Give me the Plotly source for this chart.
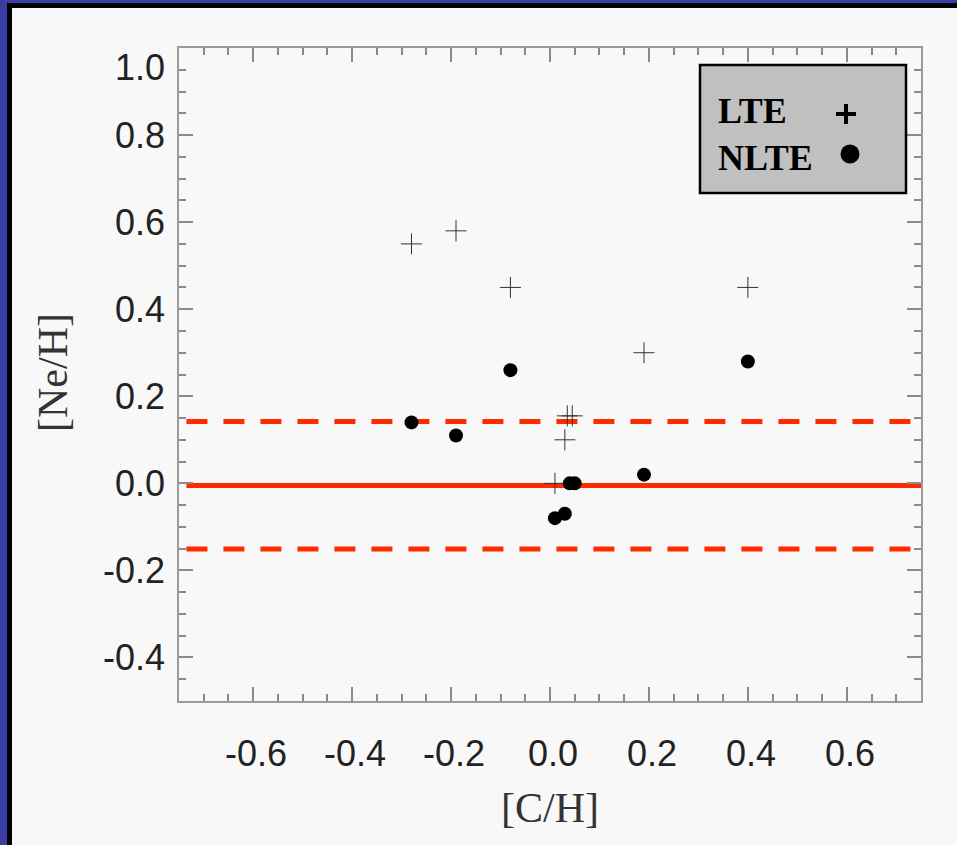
import plotly.graph_objects as go

# ---- data ----
ch_lte = [-0.28, -0.19, -0.08, 0.19, 0.40, 0.01, 0.03, 0.035, 0.045]
neh_lte = [0.55, 0.58, 0.45, 0.30, 0.45, 0.00, 0.10, 0.155, 0.155]
ch_nlte = [-0.28, -0.19, -0.08, 0.19, 0.40, 0.01, 0.03, 0.04, 0.05]
neh_nlte = [0.14, 0.11, 0.26, 0.02, 0.28, -0.08, -0.07, 0.00, 0.00]
mean_val = -0.005
upper_val = 0.142
lower_val = -0.151
line_x = [-0.735, 0.75]
x_ticks = [-0.6, -0.4, -0.2, 0.0, 0.2, 0.4, 0.6]
x_tick_labels = ["-0.6", "-0.4", "-0.2", "0.0", "0.2", "0.4", "0.6"]
y_ticks = [-0.4, -0.2, 0.0, 0.2, 0.4, 0.6, 0.8, 1.0]
y_tick_labels = ["-0.4", "-0.2", "0.0", "0.2", "0.4", "0.6", "0.8", "1.0"]

W, H = 957, 845
L, R, T, B = 179, 36, 48, 144
PW, PH = W - L - R, H - T - B


def px(x):
    return (x - L) / PW


def py(y):
    return (H - B - y) / PH


RED = "#ff2a00"
BLUE = "#3a3ea2"
fig = go.Figure()
fig.add_trace(go.Scatter(x=line_x, y=[upper_val] * 2, mode="lines",
                         line=dict(color=RED, width=5, dash="21px,16px"), hoverinfo="skip"))
fig.add_trace(go.Scatter(x=line_x, y=[lower_val] * 2, mode="lines",
                         line=dict(color=RED, width=5, dash="21px,16px"), hoverinfo="skip"))
fig.add_trace(go.Scatter(x=line_x, y=[mean_val] * 2, mode="lines",
                         line=dict(color=RED, width=5), hoverinfo="skip"))
fig.add_trace(go.Scatter(x=ch_lte, y=neh_lte, mode="markers", name="LTE",
                         marker=dict(symbol="cross-thin", size=15,
                                     line=dict(color="#333333", width=1))))
fig.add_trace(go.Scatter(x=ch_nlte, y=neh_nlte, mode="markers", name="NLTE",
                         marker=dict(symbol="circle", size=14, color="black")))

axis_common = dict(showline=True, linecolor="#9a9a9a", linewidth=2, mirror="ticks",
                   ticks="inside", ticklen=14, tickwidth=1.5, tickcolor="#8a8a8a",
                   showgrid=False, zeroline=False, showticklabels=False,
                   minor=dict(ticks="inside", ticklen=7, tickwidth=1.5,
                              tickcolor="#8a8a8a", dtick=0.05, showgrid=False))
fig.update_xaxes(range=[-0.75, 0.75], tick0=0, dtick=0.2, **axis_common)
fig.update_yaxes(range=[-0.5, 1.0], tick0=0, dtick=0.2, **axis_common)

ann = []
tick_font = dict(family="Liberation Sans, Arial, sans-serif", size=36, color="#222222")
for v, t in zip(x_ticks, x_tick_labels):
    ann.append(dict(x=v, xref="x", y=0, yref="paper", text=t, showarrow=False,
                    xanchor="center", yanchor="middle", yshift=-52, xshift=3, font=tick_font))
for v, t in zip(y_ticks, y_tick_labels):
    ys = -19 if v >= 1.0 else 0
    ann.append(dict(x=0, xref="paper", y=v, yref="y", text=t, showarrow=False,
                    xanchor="right", yanchor="middle", xshift=-12, yshift=ys, font=tick_font))
title_font = dict(family="Liberation Serif, Times New Roman, serif", size=42, color="#333333")
ann.append(dict(x=px(550), y=py(808), xref="paper", yref="paper", text="[C/H]",
                showarrow=False, xanchor="center", yanchor="middle", font=title_font))
ann.append(dict(x=px(53), y=py(373), xref="paper", yref="paper", text="[Ne/H]",
                showarrow=False, xanchor="center", yanchor="middle", textangle=-90,
                font=title_font))
leg_font = dict(family="Liberation Serif, Times New Roman, serif", size=36, color="black")
ann.append(dict(x=px(716), y=py(111), xref="paper", yref="paper", text="<b>LTE</b>",
                showarrow=False, xanchor="left", yanchor="middle", font=leg_font))
ann.append(dict(x=px(716), y=py(158), xref="paper", yref="paper", text="<b>NLTE</b>",
                showarrow=False, xanchor="left", yanchor="middle", font=leg_font))

shapes = []
# outer frame (blue + black) on left and top
shapes.append(dict(type="rect", xref="paper", yref="paper", x0=px(0), x1=px(7), y0=py(H), y1=py(0),
                   fillcolor=BLUE, line=dict(width=0), layer="above"))
shapes.append(dict(type="rect", xref="paper", yref="paper", x0=px(0), x1=px(W), y0=py(3), y1=py(0),
                   fillcolor=BLUE, line=dict(width=0), layer="above"))
shapes.append(dict(type="rect", xref="paper", yref="paper", x0=px(7), x1=px(12), y0=py(H), y1=py(3),
                   fillcolor="black", line=dict(width=0), layer="above"))
shapes.append(dict(type="rect", xref="paper", yref="paper", x0=px(7), x1=px(W), y0=py(8), y1=py(3),
                   fillcolor="black", line=dict(width=0), layer="above"))
# legend box
shapes.append(dict(type="rect", xref="paper", yref="paper", x0=px(700), x1=px(906), y0=py(193), y1=py(65),
                   fillcolor="#c0c0c0", line=dict(color="black", width=2.5), layer="above"))
# legend symbols
shapes.append(dict(type="line", xref="paper", yref="paper", x0=px(836), x1=px(856), y0=py(114), y1=py(114),
                   line=dict(color="black", width=4), layer="above"))
shapes.append(dict(type="line", xref="paper", yref="paper", x0=px(846), x1=px(846), y0=py(104), y1=py(124),
                   line=dict(color="black", width=4), layer="above"))
shapes.append(dict(type="circle", xref="paper", yref="paper", x0=px(840.5), x1=px(859.5), y0=py(163.5), y1=py(144.5),
                   fillcolor="black", line=dict(width=0), layer="above"))

fig.update_layout(width=W, height=H, margin=dict(l=L, r=R, t=T, b=B),
                  paper_bgcolor="#f8f8f8", plot_bgcolor="#f8f8f8",
                  showlegend=False, annotations=ann, shapes=shapes)
fig.write_html("out.html")
